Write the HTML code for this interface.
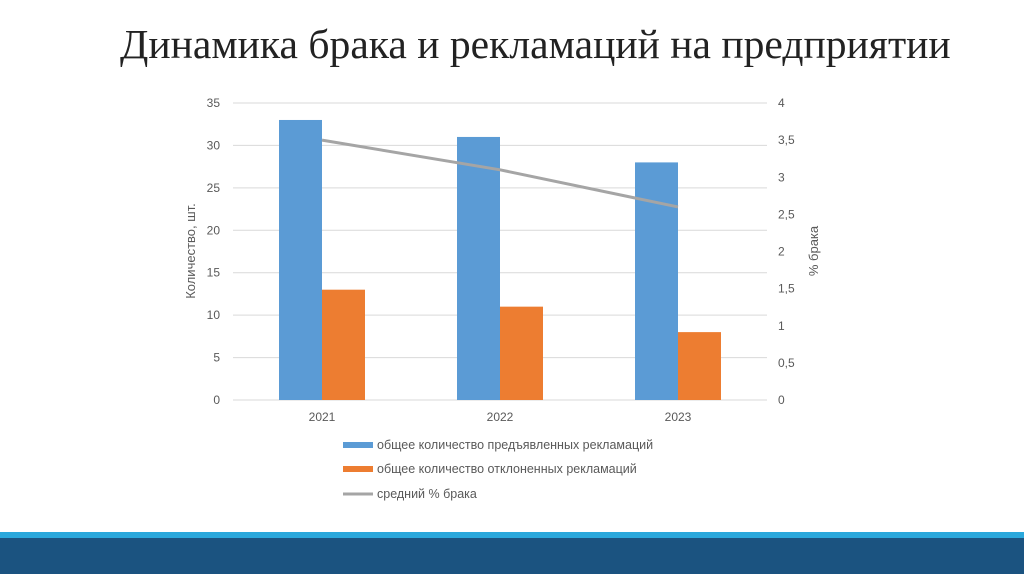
<!DOCTYPE html>
<html><head><meta charset="utf-8"><style>
body{margin:0;width:1024px;height:574px;background:#fff;overflow:hidden;position:relative;font-family:"Liberation Sans","DejaVu Sans",sans-serif}
#title{position:absolute;left:120px;top:20px;font-family:"Liberation Serif",serif;font-size:41.6px;color:#222;white-space:nowrap}
</style></head><body>
<div id="title">Динамика брака и рекламаций на предприятии</div>
<svg id="chart" width="1024" height="574" style="position:absolute;left:0;top:0"></svg>
<div style="position:absolute;left:0;top:532px;width:1024px;height:6px;background:#2aa8dc"></div>
<div style="position:absolute;left:0;top:538px;width:1024px;height:36px;background:#1b5380"></div>
<script>
const categories=["2021","2022","2023"];
const claimsTotal=[33,31,28];
const claimsRejected=[13,11,8];
const defectPct=[3.5,3.1,2.6];
const leftTicks=[0,5,10,15,20,25,30,35];
const rightTicks=["0","0,5","1","1,5","2","2,5","3","3,5","4"];
const svg=document.getElementById('chart');
const NS="http://www.w3.org/2000/svg";
const x0=233,x1=767,y0=400,yTop=103;
const yL=v=>y0-(v/35)*(y0-yTop);
const yR=v=>y0-(v/4)*(y0-yTop);
const band=(x1-x0)/categories.length;
const xc=i=>x0+band*(i+0.5);
function mk(t,a,txt){const e=document.createElementNS(NS,t);for(const k in a)e.setAttribute(k,a[k]);if(txt!==undefined)e.textContent=txt;svg.appendChild(e);return e;}
leftTicks.forEach(v=>{
 const g=mk('line',{x1:x0,x2:x1,y1:yL(v),y2:yL(v),stroke:'#d9d9d9','stroke-width':1});
 
 
 const t=mk('text',{x:220,y:yL(v)+4,'text-anchor':'end','font-size':12,fill:'#595959'},v);
 
 
});
rightTicks.forEach((s,i)=>{
 const t=mk('text',{x:778,y:yR(i*0.5)+4,'font-size':12,fill:'#595959'},s);
 
 
});
const bw=43;
categories.forEach((c,i)=>{
 const b=mk('rect',{x:xc(i)-bw,y:yL(claimsTotal[i]),width:bw,height:y0-yL(claimsTotal[i]),fill:'#5b9bd5'});
 
 
 const o=mk('rect',{x:xc(i),y:yL(claimsRejected[i]),width:bw,height:y0-yL(claimsRejected[i]),fill:'#ed7d31'});
 
 
 const t=mk('text',{x:xc(i),y:421,'text-anchor':'middle','font-size':12,fill:'#595959'},c);
 
 
});
const pl=mk('polyline',{points:defectPct.map((v,i)=>xc(i)+','+yR(v)).join(' '),fill:'none',stroke:'#a5a5a5','stroke-width':3});


const yt=mk('text',{transform:'translate(195,251) rotate(-90)','text-anchor':'middle','font-size':13,fill:'#595959'},'Количество, шт.');


const yt2=mk('text',{transform:'translate(818,251) rotate(-90)','text-anchor':'middle','font-size':13,fill:'#595959'},'% брака');


const leg=[['rect','#5b9bd5','общее количество предъявленных рекламаций',445],['rect','#ed7d31','общее количество отклоненных рекламаций',469],['line','#a5a5a5','средний % брака',494]];
leg.forEach(l=>{
 const s=mk('rect',{x:343,y:l[3]-(l[0]=='rect'?3:1.5),width:30,height:l[0]=='rect'?6:3,fill:l[1]});
 
 
 const t=mk('text',{x:377,y:l[3]+4,'font-size':12.5,fill:'#595959'},l[2]);
 
 
});
</script>
</body></html>
